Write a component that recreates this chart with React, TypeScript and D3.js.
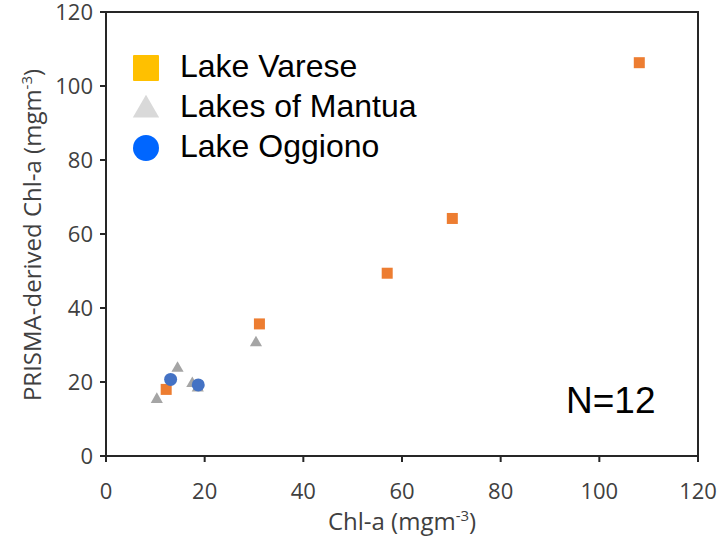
import * as d3 from 'd3';

// Lake Varese (orange squares)
const vareseX = [108.1, 70.2, 57.0, 31.1, 12.2];
const vareseY = [106.3, 64.2, 49.4, 35.7, 18.0];
// Lakes of Mantua (grey triangles)
const mantuaX = [10.3, 14.5, 17.5, 30.4, 18.6];
const mantuaY = [15.3, 23.7, 19.6, 30.6, 18.4];
// Lake Oggiono (blue circles)
const oggionoX = [13.1, 18.7];
const oggionoY = [20.7, 19.2];

const xTicks = [0, 20, 40, 60, 80, 100, 120];
const yTicks = [0, 20, 40, 60, 80, 100, 120];

const legendNames = ['Lake Varese', 'Lakes of Mantua', 'Lake Oggiono'];

const W = 717;
const H = 548;

const x = d3.scaleLinear().domain([0, 120]).range([106, 698]);
const y = d3.scaleLinear().domain([0, 120]).range([456, 12]);

const tickFont = '"Open Sans", sans-serif';
const tri = (size: number) => d3.symbol().type(d3.symbolTriangle).size(size)() as string;

export default function App() {
  const axisColor = '#262626';
  const labelColor = '#404040';
  return (
    <svg width={W} height={H} style={{ position: 'fixed', left: 0, top: 0, background: '#fff' }}>
      {/* plot frame */}
      <rect x={x(0)} y={y(120)} width={x(120) - x(0)} height={y(0) - y(120)}
        fill="none" stroke={axisColor} strokeWidth={2} />

      {/* y axis ticks */}
      {yTicks.map(t => (
        <g key={'y' + t}>
          <line x1={x(0) - 6} x2={x(0)} y1={y(t)} y2={y(t)} stroke={axisColor} strokeWidth={2} />
          <text x={x(0) - 13} y={y(t)} dy="0.36em" textAnchor="end" fontFamily={tickFont}
            fontSize={22} fill={labelColor}>{t}</text>
        </g>
      ))}

      {/* x axis ticks */}
      {xTicks.map(t => (
        <g key={'x' + t}>
          <line x1={x(t)} x2={x(t)} y1={y(0)} y2={y(0) + 6} stroke={axisColor} strokeWidth={2} />
          <text x={x(t)} y={y(0) + 43} textAnchor="middle" fontFamily={tickFont}
            fontSize={22} fill={labelColor}>{t}</text>
        </g>
      ))}

      {/* axis titles */}
      <text x={402} y={530} textAnchor="middle" fontFamily={tickFont} fontSize={24} fill={labelColor}>
        Chl-a (mgm<tspan dy={-9} fontSize={15}>-3</tspan><tspan dy={9}>)</tspan>
      </text>
      <text transform={`translate(33,235) rotate(-90)`} dy="0.35em" textAnchor="middle" fontFamily={tickFont}
        fontSize={24} fill={labelColor}>
        PRISMA-derived Chl-a (mgm<tspan dy={-9} fontSize={15}>-3</tspan><tspan dy={9}>)</tspan>
      </text>

      {/* series */}
      {vareseX.map((v, i) => (
        <rect key={'v' + i} x={x(v) - 5.5} y={y(vareseY[i]) - 5.5} width={11} height={11} fill="#ED7D31" />
      ))}
      {mantuaX.map((v, i) => (
        <path key={'m' + i} d={tri(64)} transform={`translate(${x(v)},${y(mantuaY[i])})`} fill="#A5A5A5" />
      ))}
      {oggionoX.map((v, i) => (
        <circle key={'o' + i} cx={x(v)} cy={y(oggionoY[i])} r={6.5} fill="#4472C4" />
      ))}

      {/* legend */}
      <rect x={133} y={55} width={26} height={26} rx={1} fill="#FFC000" />
      <path d={tri(300)} transform="translate(146,110)" fill="#D9D9D9" />
      <circle cx={146} cy={148} r={13} fill="#0066FF" />
      {legendNames.map((n, i) => (
        <text key={n} x={180} y={77 + i * 40} fontFamily='"Liberation Sans", Arial, sans-serif'
          fontSize={32} fill="#000">{n}</text>
      ))}

      <text x={566} y={413} fontFamily='"Liberation Sans", Arial, sans-serif' fontSize={37} fill="#000">N=12</text>
    </svg>
  );
}
